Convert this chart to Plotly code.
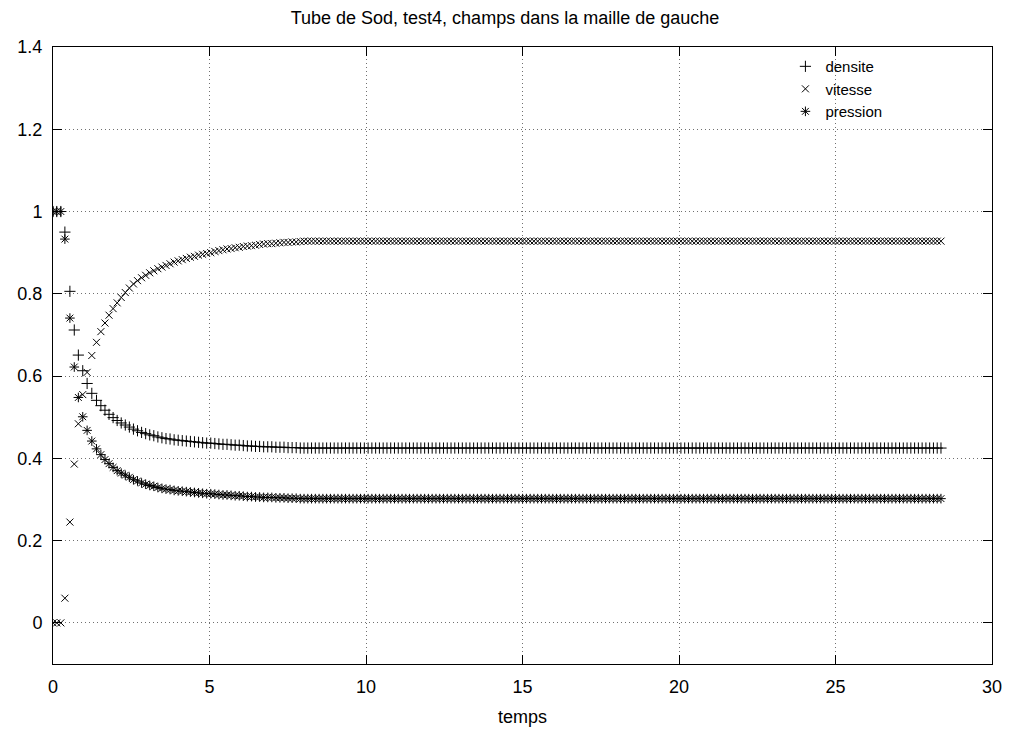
import numpy as np
import plotly.graph_objects as go

# ---- data ----
# transient part (time steps, explicit)
t_early = [0.0, 0.12, 0.25, 0.38, 0.54, 0.68, 0.81, 0.95, 1.09, 1.24, 1.39,
           1.53, 1.66, 1.79, 1.92, 2.05, 2.18, 2.31, 2.44, 2.57, 2.70,
           2.83, 2.96, 3.09, 3.22, 3.35, 3.48, 3.61, 3.74, 3.87, 4.00,
           4.13, 4.26, 4.39, 4.52, 4.65, 4.78, 4.91, 5.04, 5.17, 5.30,
           5.43, 5.56, 5.69, 5.82, 5.95, 6.08, 6.21, 6.34, 6.47, 6.60,
           6.73, 6.86, 6.99, 7.12, 7.25, 7.38, 7.51, 7.64, 7.77, 7.90]

densite_early = [1.0, 1.0, 1.0, 0.950, 0.806, 0.712, 0.651, 0.613, 0.582, 0.558, 0.541,
                 0.528, 0.517, 0.507, 0.499, 0.492, 0.486, 0.481, 0.476, 0.471, 0.467,
                 0.463, 0.460, 0.457, 0.455, 0.452, 0.450, 0.448, 0.447, 0.445, 0.444,
                 0.443, 0.442, 0.441, 0.440, 0.439, 0.438, 0.437, 0.437, 0.436, 0.435,
                 0.434, 0.434, 0.433, 0.432, 0.432, 0.431, 0.430, 0.430, 0.429, 0.429,
                 0.428, 0.428, 0.428, 0.427, 0.427, 0.427, 0.426, 0.426, 0.426, 0.425]

vitesse_early = [0.0, 0.0, 0.0, 0.060, 0.245, 0.386, 0.484, 0.555, 0.609, 0.650, 0.682,
                 0.708, 0.729, 0.748, 0.764, 0.778, 0.791, 0.803, 0.814, 0.824, 0.832,
                 0.839, 0.845, 0.851, 0.856, 0.861, 0.865, 0.869, 0.873, 0.877, 0.880,
                 0.883, 0.886, 0.889, 0.891, 0.894, 0.896, 0.898, 0.900, 0.903, 0.905,
                 0.907, 0.909, 0.910, 0.912, 0.913, 0.915, 0.916, 0.917, 0.918, 0.920,
                 0.921, 0.922, 0.922, 0.923, 0.924, 0.925, 0.925, 0.926, 0.926, 0.927]

pression_early = [1.0, 1.0, 1.0, 0.933, 0.741, 0.622, 0.548, 0.501, 0.468, 0.442, 0.423,
                  0.409, 0.397, 0.387, 0.378, 0.370, 0.364, 0.359, 0.354, 0.348, 0.345,
                  0.340, 0.337, 0.334, 0.332, 0.329, 0.327, 0.325, 0.324, 0.322, 0.321,
                  0.320, 0.319, 0.318, 0.317, 0.316, 0.315, 0.314, 0.314, 0.313, 0.312,
                  0.311, 0.311, 0.310, 0.309, 0.309, 0.308, 0.307, 0.307, 0.306, 0.306,
                  0.305, 0.305, 0.305, 0.304, 0.304, 0.304, 0.303, 0.303, 0.303, 0.302]

# steady plateau (values read from the flat tails)
tail_start, tail_end, tail_count = 8.02, 28.37, 170
densite_plateau = 0.425
vitesse_plateau = 0.928
pression_plateau = 0.302

title_text = "Tube de Sod, test4, champs dans la maille de gauche"
x_label = "temps"
x_ticks = [0, 5, 10, 15, 20, 25, 30]
y_ticks = [0, 0.2, 0.4, 0.6, 0.8, 1.0, 1.2, 1.4]

# ---- assemble series ----
t_tail = list(np.linspace(tail_start, tail_end, tail_count))
temps = t_early + t_tail
densite = densite_early + [densite_plateau] * tail_count
vitesse = vitesse_early + [vitesse_plateau] * tail_count
pression = pression_early + [pression_plateau] * tail_count

FONT = "Liberation Sans, Arial, sans-serif"
FS = 18

fig = go.Figure()
series = [
    ("densite", densite, "cross-thin", 8),
    ("vitesse", vitesse, "x-thin", 7),
    ("pression", pression, "asterisk", 8),
]
for name, vals, sym, sz in series:
    fig.add_trace(go.Scatter(
        x=temps, y=vals, mode="markers", name=name,
        marker=dict(symbol=sym, size=sz, color="black",
                    line=dict(color="black", width=1)),
    ))

axis_common = dict(
    showline=True, linecolor="black", linewidth=1, mirror="allticks",
    ticks="inside", ticklen=9, tickcolor="black", tickwidth=1,
    showgrid=True, gridcolor="#707070", griddash="1px,3px", gridwidth=1,
    zeroline=False, automargin=False, ticklabelstandoff=6,
    tickfont=dict(family=FONT, size=FS, color="black"),
)

fig.update_xaxes(range=[0, 30], tickvals=x_ticks,
                 title=dict(text=x_label, font=dict(family=FONT, size=FS, color="black"), standoff=14),
                 **axis_common)
fig.update_yaxes(range=[-0.1, 1.4], tickvals=y_ticks,
                 ticktext=[("%g" % v) for v in y_ticks],
                 **axis_common)

# page body adds an 8px offset; figure size/margins compensate for it
fig.update_layout(
    width=1002, height=723,
    margin=dict(l=45, r=18, t=39, b=67, autoexpand=False),
    paper_bgcolor="white", plot_bgcolor="white",
    title=dict(text=title_text, x=0.496, xanchor="center", y=0.986, yanchor="middle",
               font=dict(family=FONT, size=FS, color="black")),
    font=dict(family=FONT, size=FS, color="black"),
    showlegend=True,
    legend=dict(x=0.78, y=0.995, xanchor="left", yanchor="top",
                bgcolor="rgba(0,0,0,0)", borderwidth=0,
                font=dict(family=FONT, size=15, color="black"),
                tracegroupgap=0, itemwidth=30),
)

fig.write_html("out.html")
